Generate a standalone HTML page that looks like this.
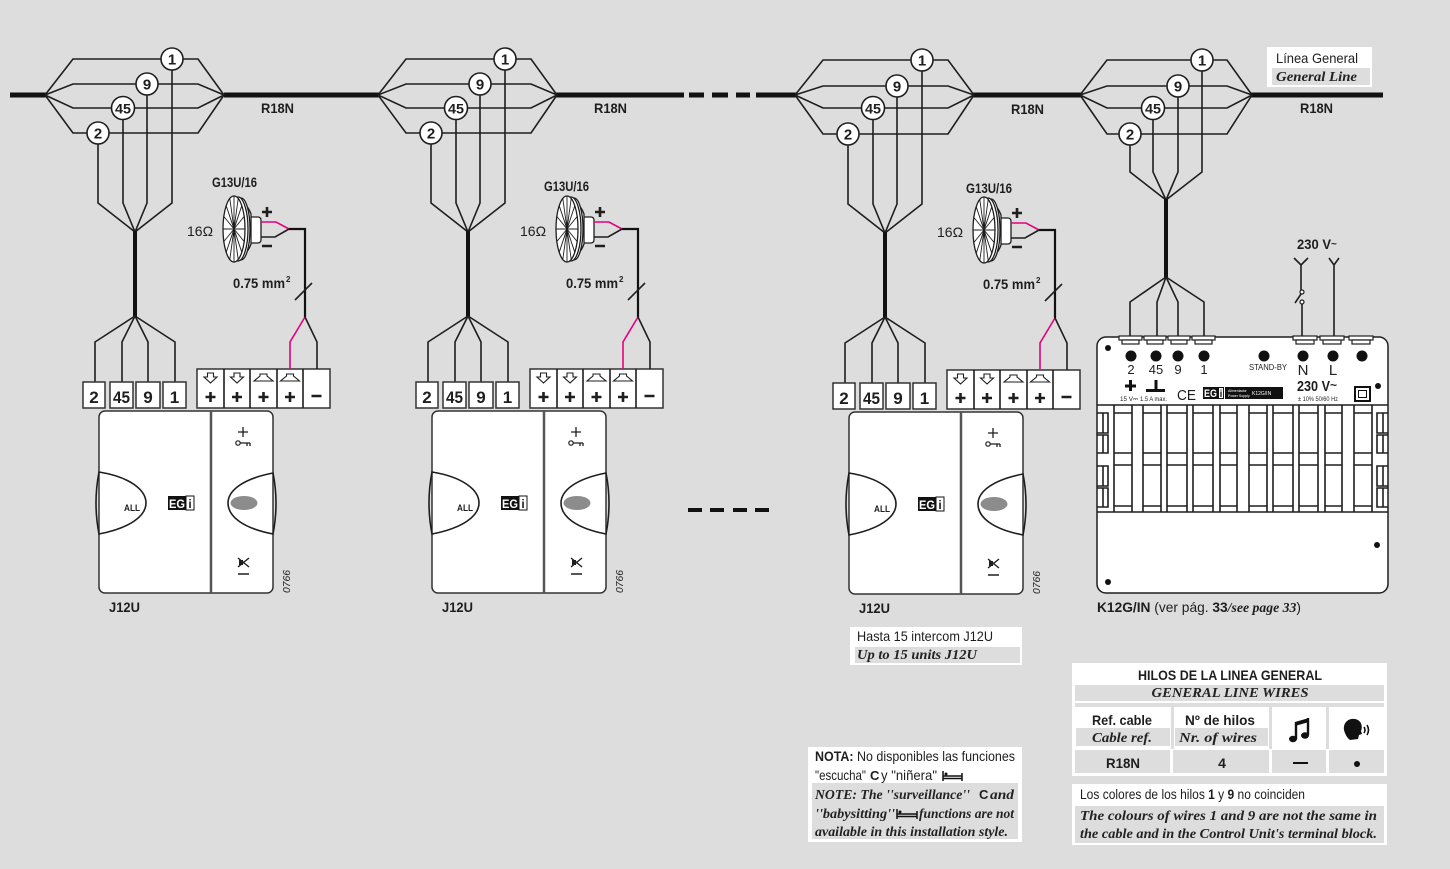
<!DOCTYPE html>
<html><head><meta charset="utf-8">
<style>
html,body{margin:0;padding:0;background:#dddddd;}
svg{display:block;}
.w{fill:none;stroke:#1e1e1e;stroke-width:1.6;stroke-linejoin:miter}
.b{font-family:"Liberation Sans",sans-serif;font-weight:bold;fill:#1e1e1e}
.r{font-family:"Liberation Sans",sans-serif;fill:#1e1e1e}
.s{font-family:"Liberation Serif",serif;font-style:italic;font-weight:bold;fill:#222}
</style></head><body>
<svg width="1450" height="869" viewBox="0 0 1450 869" xmlns="http://www.w3.org/2000/svg">
<rect width="1450" height="869" fill="#dddddd"/>

<!-- main general line -->
<path d="M10,95H46 M224,95H379 M556,95H684 M689,95H704 M712,95H728 M736,95H750 M756,95H796 M973,95H1081 M1251,95H1383" stroke="#111" stroke-width="5" fill="none"/>

<!-- middle dashes -->
<path d="M688,510H702 M710,510H724 M733,510H747 M755,510H769" stroke="#111" stroke-width="4" fill="none"/>

<!-- ============ GROUP 1 ============ -->
<g id="grp1">
<path class="w" d="M45,95 L73,59 H198 L224,95 M45,95 L73,84 H198 L224,95 M45,95 L73,108 H198 L224,95 M45,95 L73,133 H198 L224,95"/>
<path class="w" d="M98,133 V203 L135,232 M123,108 V203 L135,232 M147,84 V203 L135,232 M172,59 V203 L135,232"/>
<g fill="#fff" stroke="#1e1e1e" stroke-width="1.6"><circle cx="172" cy="59" r="11"/><circle cx="147" cy="84" r="11"/><circle cx="123" cy="108" r="11.5"/><circle cx="98" cy="133" r="11"/></g>
<g class="b" font-size="15" text-anchor="middle"><text x="172" y="64.5">1</text><text x="147" y="89.5">9</text><text x="123" y="113.5" font-size="14" textLength="16" lengthAdjust="spacingAndGlyphs">45</text><text x="98" y="138.5">2</text></g>
<text class="b" font-size="14" x="261" y="113" textLength="33" lengthAdjust="spacingAndGlyphs">R18N</text>
<path d="M135,231V317" stroke="#111" stroke-width="4" fill="none"/>
<path class="w" d="M135,316 L95,342 V382 M135,316 L122,342 V382 M135,316 L148,342 V382 M135,316 L175,342 V382"/>
<g fill="#fff" stroke="#333" stroke-width="1.5">
<rect x="83" y="382" width="22" height="26"/><rect x="110" y="382" width="23" height="26"/><rect x="136" y="382" width="24" height="26"/><rect x="163" y="382" width="23" height="26"/>
<rect x="197" y="369" width="133" height="39"/>
</g>
<path class="w" d="M224,369V408 M250,369V408 M277,369V408 M303,369V408"/>
<g class="b" font-size="17" text-anchor="middle"><text x="94" y="403">2</text><text x="121.5" y="403" textLength="17" lengthAdjust="spacingAndGlyphs">45</text><text x="148" y="403">9</text><text x="174.5" y="403">1</text></g>
<g fill="#fff" stroke="#1e1e1e" stroke-width="1.1">
<path d="M207.5,373h6v4h3.5l-6.5,6l-6.5,-6h3.5z"/><path d="M234,373h6v4h3.5l-6.5,6l-6.5,-6h3.5z"/>
<path d="M260,374h7v2l6,5h-19l6,-5z"/><path d="M286.5,374h7v2l6,5h-19l6,-5z"/>
</g>
<path d="M205.5,397h10 M210.5,392v10 M232,397h10 M237,392v10 M258.5,397h10 M263.5,392v10 M285,397h10 M290,392v10 M311.5,396h10" stroke="#1e1e1e" stroke-width="2.6" fill="none"/>
<!-- speaker -->
<text class="r" font-size="14" x="187" y="236">16Ω</text>
<g fill="#fff" stroke="#1e1e1e" stroke-width="1.3">
<rect x="249" y="217" width="12" height="26" rx="3"/>
<path d="M238,198 Q248,205 251,214 V244 Q248,253 238,260 Z"/>
<ellipse cx="241" cy="229" rx="9" ry="31"/>
<ellipse cx="238" cy="229" rx="10" ry="32"/>
<ellipse cx="234" cy="229" rx="11" ry="33"/>
</g>
<path d="M223,229H245 M223.8,216.4L244.2,241.6 M226.2,205.7L241.8,252.3 M229.8,198.5L238.2,259.5 M234,196V262 M238.2,198.5L229.8,259.5 M241.8,205.7L226.2,252.3 M244.2,216.4L223.8,241.6" stroke="#1e1e1e" stroke-width="0.9" fill="none"/>
<path d="M262,212h10 M267,207v10 M262,246h10" stroke="#1e1e1e" stroke-width="2.6" fill="none"/>
<path d="M289,229 H305 V317" stroke="#111" stroke-width="2.2" fill="none"/>
<path class="w" d="M295,300 L312,283"/>
<path d="M261,222 H276 L289,229" stroke="#e6007e" stroke-width="1.6" fill="none"/>
<path class="w" d="M261,237 H275 L289,229"/>
<path d="M305,317 L290,342 V369" stroke="#e6007e" stroke-width="1.6" fill="none"/>
<path class="w" d="M305,317 L317,342 V369"/>
<text class="b" font-size="14" x="233" y="288" textLength="52" lengthAdjust="spacingAndGlyphs">0.75  mm</text>
<text class="b" font-size="8" x="286" y="282">2</text>
<!-- intercom -->
<rect x="99" y="411" width="174" height="182" rx="6" fill="#fff" stroke="#333" stroke-width="1.5"/>
<path d="M211,411V593" stroke="#555" stroke-width="2.5"/>
<path class="w" fill="#fff" d="M99,472 C130,477 146,490 146,503 C146,516 130,528 99,534 Q93,503 99,472 Z"/>
<path class="w" fill="#fff" d="M273,473 C242,479 228,491 228,503 C228,516 242,528 273,534 Q279,503 273,473 Z"/>
<ellipse cx="244" cy="503" rx="13.5" ry="7" fill="#8c8c8c"/>
<text class="b" font-size="9.5" x="124" y="511" textLength="16" lengthAdjust="spacingAndGlyphs">ALL</text>
<rect x="168" y="496" width="18" height="14" fill="#111"/>
<text font-family="Liberation Sans, sans-serif" font-weight="bold" font-size="12" fill="#fff" x="169" y="508" textLength="16" lengthAdjust="spacingAndGlyphs">EG</text>
<rect x="186" y="496" width="8" height="14" fill="#fff" stroke="#111" stroke-width="1"/>
<text class="b" font-size="12" x="190" y="508" text-anchor="middle">i</text>
<path d="M238,432h10 M243,427v10 M240,443h10 M247,443v3 M250,443v3" stroke="#1e1e1e" stroke-width="1.3" fill="none"/>
<circle cx="238" cy="443" r="2.2" fill="none" stroke="#1e1e1e" stroke-width="1.2"/>
<path d="M238,558L249,567 M249,558L238,567 M238,574h11" stroke="#1e1e1e" stroke-width="1.4" fill="none"/>
<rect x="239" y="560" width="4" height="5" fill="#1e1e1e"/>
<text class="r" font-size="10" font-style="italic" transform="translate(290,593) rotate(-90)" textLength="23" lengthAdjust="spacingAndGlyphs">0766</text>
<text class="b" font-size="14" x="109" y="612" textLength="31" lengthAdjust="spacingAndGlyphs">J12U</text>
</g>
<text class="b" font-size="14" x="212" y="187" textLength="45" lengthAdjust="spacingAndGlyphs">G13U/16</text>

<!-- ============ GROUP 2 ============ -->
<g transform="translate(333,0)">
<path class="w" d="M45,95 L73,59 H198 L224,95 M45,95 L73,84 H198 L224,95 M45,95 L73,108 H198 L224,95 M45,95 L73,133 H198 L224,95"/>
<path class="w" d="M98,133 V203 L135,232 M123,108 V203 L135,232 M147,84 V203 L135,232 M172,59 V203 L135,232"/>
<g fill="#fff" stroke="#1e1e1e" stroke-width="1.6"><circle cx="172" cy="59" r="11"/><circle cx="147" cy="84" r="11"/><circle cx="123" cy="108" r="11.5"/><circle cx="98" cy="133" r="11"/></g>
<g class="b" font-size="15" text-anchor="middle"><text x="172" y="64.5">1</text><text x="147" y="89.5">9</text><text x="123" y="113.5" font-size="14" textLength="16" lengthAdjust="spacingAndGlyphs">45</text><text x="98" y="138.5">2</text></g>
<text class="b" font-size="14" x="261" y="113" textLength="33" lengthAdjust="spacingAndGlyphs">R18N</text>
<path d="M135,231V317" stroke="#111" stroke-width="4" fill="none"/>
<path class="w" d="M135,316 L95,342 V382 M135,316 L122,342 V382 M135,316 L148,342 V382 M135,316 L175,342 V382"/>
<g fill="#fff" stroke="#333" stroke-width="1.5">
<rect x="83" y="382" width="22" height="26"/><rect x="110" y="382" width="23" height="26"/><rect x="136" y="382" width="24" height="26"/><rect x="163" y="382" width="23" height="26"/>
<rect x="197" y="369" width="133" height="39"/>
</g>
<path class="w" d="M224,369V408 M250,369V408 M277,369V408 M303,369V408"/>
<g class="b" font-size="17" text-anchor="middle"><text x="94" y="403">2</text><text x="121.5" y="403" textLength="17" lengthAdjust="spacingAndGlyphs">45</text><text x="148" y="403">9</text><text x="174.5" y="403">1</text></g>
<g fill="#fff" stroke="#1e1e1e" stroke-width="1.1">
<path d="M207.5,373h6v4h3.5l-6.5,6l-6.5,-6h3.5z"/><path d="M234,373h6v4h3.5l-6.5,6l-6.5,-6h3.5z"/>
<path d="M260,374h7v2l6,5h-19l6,-5z"/><path d="M286.5,374h7v2l6,5h-19l6,-5z"/>
</g>
<path d="M205.5,397h10 M210.5,392v10 M232,397h10 M237,392v10 M258.5,397h10 M263.5,392v10 M285,397h10 M290,392v10 M311.5,396h10" stroke="#1e1e1e" stroke-width="2.6" fill="none"/>
<text class="r" font-size="14" x="187" y="236">16Ω</text>
<g fill="#fff" stroke="#1e1e1e" stroke-width="1.3">
<rect x="249" y="217" width="12" height="26" rx="3"/>
<path d="M238,198 Q248,205 251,214 V244 Q248,253 238,260 Z"/>
<ellipse cx="241" cy="229" rx="9" ry="31"/>
<ellipse cx="238" cy="229" rx="10" ry="32"/>
<ellipse cx="234" cy="229" rx="11" ry="33"/>
</g>
<path d="M223,229H245 M223.8,216.4L244.2,241.6 M226.2,205.7L241.8,252.3 M229.8,198.5L238.2,259.5 M234,196V262 M238.2,198.5L229.8,259.5 M241.8,205.7L226.2,252.3 M244.2,216.4L223.8,241.6" stroke="#1e1e1e" stroke-width="0.9" fill="none"/>
<path d="M262,212h10 M267,207v10 M262,246h10" stroke="#1e1e1e" stroke-width="2.6" fill="none"/>
<path d="M289,229 H305 V317" stroke="#111" stroke-width="2.2" fill="none"/>
<path class="w" d="M295,300 L312,283"/>
<path d="M261,222 H276 L289,229" stroke="#e6007e" stroke-width="1.6" fill="none"/>
<path class="w" d="M261,237 H275 L289,229"/>
<path d="M305,317 L290,342 V369" stroke="#e6007e" stroke-width="1.6" fill="none"/>
<path class="w" d="M305,317 L317,342 V369"/>
<text class="b" font-size="14" x="233" y="288" textLength="52" lengthAdjust="spacingAndGlyphs">0.75  mm</text>
<text class="b" font-size="8" x="286" y="282">2</text>
<rect x="99" y="411" width="174" height="182" rx="6" fill="#fff" stroke="#333" stroke-width="1.5"/>
<path d="M211,411V593" stroke="#555" stroke-width="2.5"/>
<path class="w" fill="#fff" d="M99,472 C130,477 146,490 146,503 C146,516 130,528 99,534 Q93,503 99,472 Z"/>
<path class="w" fill="#fff" d="M273,473 C242,479 228,491 228,503 C228,516 242,528 273,534 Q279,503 273,473 Z"/>
<ellipse cx="244" cy="503" rx="13.5" ry="7" fill="#8c8c8c"/>
<text class="b" font-size="9.5" x="124" y="511" textLength="16" lengthAdjust="spacingAndGlyphs">ALL</text>
<rect x="168" y="496" width="18" height="14" fill="#111"/>
<text font-family="Liberation Sans, sans-serif" font-weight="bold" font-size="12" fill="#fff" x="169" y="508" textLength="16" lengthAdjust="spacingAndGlyphs">EG</text>
<rect x="186" y="496" width="8" height="14" fill="#fff" stroke="#111" stroke-width="1"/>
<text class="b" font-size="12" x="190" y="508" text-anchor="middle">i</text>
<path d="M238,432h10 M243,427v10 M240,443h10 M247,443v3 M250,443v3" stroke="#1e1e1e" stroke-width="1.3" fill="none"/>
<circle cx="238" cy="443" r="2.2" fill="none" stroke="#1e1e1e" stroke-width="1.2"/>
<path d="M238,558L249,567 M249,558L238,567 M238,574h11" stroke="#1e1e1e" stroke-width="1.4" fill="none"/>
<rect x="239" y="560" width="4" height="5" fill="#1e1e1e"/>
<text class="r" font-size="10" font-style="italic" transform="translate(290,593) rotate(-90)" textLength="23" lengthAdjust="spacingAndGlyphs">0766</text>
<text class="b" font-size="14" x="109" y="612" textLength="31" lengthAdjust="spacingAndGlyphs">J12U</text>
</g>
<text class="b" font-size="14" x="544" y="191" textLength="45" lengthAdjust="spacingAndGlyphs">G13U/16</text>

<!-- ============ GROUP 3 ============ -->
<g transform="translate(750,1)">
<path class="w" d="M45,94 L73,59 H198 L224,94 M45,94 L73,85 H198 L224,94 M45,94 L73,107 H198 L224,94 M45,94 L73,133 H198 L224,94"/>
<path class="w" d="M98,133 V203 L135,232 M123,107 V203 L135,232 M147,85 V203 L135,232 M172,59 V203 L135,232"/>
<g fill="#fff" stroke="#1e1e1e" stroke-width="1.6"><circle cx="172" cy="59" r="11"/><circle cx="147" cy="85" r="11"/><circle cx="123" cy="107" r="11.5"/><circle cx="98" cy="133" r="11"/></g>
<g class="b" font-size="15" text-anchor="middle"><text x="172" y="64.5">1</text><text x="147" y="90.5">9</text><text x="123" y="112.5" font-size="14" textLength="16" lengthAdjust="spacingAndGlyphs">45</text><text x="98" y="138.5">2</text></g>
<text class="b" font-size="14" x="261" y="113" textLength="33" lengthAdjust="spacingAndGlyphs">R18N</text>
<path d="M135,231V317" stroke="#111" stroke-width="4" fill="none"/>
<path class="w" d="M135,316 L95,342 V382 M135,316 L122,342 V382 M135,316 L148,342 V382 M135,316 L175,342 V382"/>
<g fill="#fff" stroke="#333" stroke-width="1.5">
<rect x="83" y="382" width="22" height="26"/><rect x="110" y="382" width="23" height="26"/><rect x="136" y="382" width="24" height="26"/><rect x="163" y="382" width="23" height="26"/>
<rect x="197" y="369" width="133" height="39"/>
</g>
<path class="w" d="M224,369V408 M250,369V408 M277,369V408 M303,369V408"/>
<g class="b" font-size="17" text-anchor="middle"><text x="94" y="403">2</text><text x="121.5" y="403" textLength="17" lengthAdjust="spacingAndGlyphs">45</text><text x="148" y="403">9</text><text x="174.5" y="403">1</text></g>
<g fill="#fff" stroke="#1e1e1e" stroke-width="1.1">
<path d="M207.5,373h6v4h3.5l-6.5,6l-6.5,-6h3.5z"/><path d="M234,373h6v4h3.5l-6.5,6l-6.5,-6h3.5z"/>
<path d="M260,374h7v2l6,5h-19l6,-5z"/><path d="M286.5,374h7v2l6,5h-19l6,-5z"/>
</g>
<path d="M205.5,397h10 M210.5,392v10 M232,397h10 M237,392v10 M258.5,397h10 M263.5,392v10 M285,397h10 M290,392v10 M311.5,396h10" stroke="#1e1e1e" stroke-width="2.6" fill="none"/>
<text class="r" font-size="14" x="187" y="236">16Ω</text>
<g fill="#fff" stroke="#1e1e1e" stroke-width="1.3">
<rect x="249" y="217" width="12" height="26" rx="3"/>
<path d="M238,198 Q248,205 251,214 V244 Q248,253 238,260 Z"/>
<ellipse cx="241" cy="229" rx="9" ry="31"/>
<ellipse cx="238" cy="229" rx="10" ry="32"/>
<ellipse cx="234" cy="229" rx="11" ry="33"/>
</g>
<path d="M223,229H245 M223.8,216.4L244.2,241.6 M226.2,205.7L241.8,252.3 M229.8,198.5L238.2,259.5 M234,196V262 M238.2,198.5L229.8,259.5 M241.8,205.7L226.2,252.3 M244.2,216.4L223.8,241.6" stroke="#1e1e1e" stroke-width="0.9" fill="none"/>
<path d="M262,212h10 M267,207v10 M262,246h10" stroke="#1e1e1e" stroke-width="2.6" fill="none"/>
<path d="M289,229 H305 V317" stroke="#111" stroke-width="2.2" fill="none"/>
<path class="w" d="M295,300 L312,283"/>
<path d="M261,222 H276 L289,229" stroke="#e6007e" stroke-width="1.6" fill="none"/>
<path class="w" d="M261,237 H275 L289,229"/>
<path d="M305,317 L290,342 V369" stroke="#e6007e" stroke-width="1.6" fill="none"/>
<path class="w" d="M305,317 L317,342 V369"/>
<text class="b" font-size="14" x="233" y="288" textLength="52" lengthAdjust="spacingAndGlyphs">0.75  mm</text>
<text class="b" font-size="8" x="286" y="282">2</text>
<rect x="99" y="411" width="174" height="182" rx="6" fill="#fff" stroke="#333" stroke-width="1.5"/>
<path d="M211,411V593" stroke="#555" stroke-width="2.5"/>
<path class="w" fill="#fff" d="M99,472 C130,477 146,490 146,503 C146,516 130,528 99,534 Q93,503 99,472 Z"/>
<path class="w" fill="#fff" d="M273,473 C242,479 228,491 228,503 C228,516 242,528 273,534 Q279,503 273,473 Z"/>
<ellipse cx="244" cy="503" rx="13.5" ry="7" fill="#8c8c8c"/>
<text class="b" font-size="9.5" x="124" y="511" textLength="16" lengthAdjust="spacingAndGlyphs">ALL</text>
<rect x="168" y="496" width="18" height="14" fill="#111"/>
<text font-family="Liberation Sans, sans-serif" font-weight="bold" font-size="12" fill="#fff" x="169" y="508" textLength="16" lengthAdjust="spacingAndGlyphs">EG</text>
<rect x="186" y="496" width="8" height="14" fill="#fff" stroke="#111" stroke-width="1"/>
<text class="b" font-size="12" x="190" y="508" text-anchor="middle">i</text>
<path d="M238,432h10 M243,427v10 M240,443h10 M247,443v3 M250,443v3" stroke="#1e1e1e" stroke-width="1.3" fill="none"/>
<circle cx="238" cy="443" r="2.2" fill="none" stroke="#1e1e1e" stroke-width="1.2"/>
<path d="M238,558L249,567 M249,558L238,567 M238,574h11" stroke="#1e1e1e" stroke-width="1.4" fill="none"/>
<rect x="239" y="560" width="4" height="5" fill="#1e1e1e"/>
<text class="r" font-size="10" font-style="italic" transform="translate(290,593) rotate(-90)" textLength="23" lengthAdjust="spacingAndGlyphs">0766</text>
<text class="b" font-size="14" x="109" y="612" textLength="31" lengthAdjust="spacingAndGlyphs">J12U</text>
</g>
<text class="b" font-size="14" x="966" y="193" textLength="46" lengthAdjust="spacingAndGlyphs">G13U/16</text>

<!-- ============ GROUP 4 (power supply) ============ -->
<path class="w" d="M1080,95 L1107,60 H1227 L1252,95 M1080,95 L1107,86 H1227 L1252,95 M1080,95 L1107,108 H1227 L1252,95 M1080,95 L1107,134 H1227 L1252,95"/>
<path class="w" d="M1130,134 V172 L1166,200 M1153,108 V172 L1166,200 M1178,86 V172 L1166,200 M1202,60 V172 L1166,200"/>
<g fill="#fff" stroke="#1e1e1e" stroke-width="1.6"><circle cx="1202" cy="60" r="11"/><circle cx="1178" cy="86" r="11"/><circle cx="1153" cy="108" r="11.5"/><circle cx="1130" cy="134" r="11"/></g>
<g class="b" font-size="15" text-anchor="middle"><text x="1202" y="65.5">1</text><text x="1178" y="91.5">9</text><text x="1153" y="113.5" font-size="14" textLength="16" lengthAdjust="spacingAndGlyphs">45</text><text x="1130" y="139.5">2</text></g>
<text class="b" font-size="14" x="1300" y="113" textLength="33" lengthAdjust="spacingAndGlyphs">R18N</text>
<path d="M1166,199V278" stroke="#111" stroke-width="4" fill="none"/>
<path class="w" d="M1166,277 L1130,302 V337 M1166,277 L1157,302 V337 M1166,277 L1178,302 V337 M1166,277 L1204,302 V337"/>

<!-- legend -->
<rect x="1267" y="47" width="105" height="40" fill="#fff"/>
<rect x="1272" y="68" width="98" height="17" fill="#dddddd"/>
<text class="r" font-size="14" x="1276" y="63" textLength="82" lengthAdjust="spacingAndGlyphs">Línea  General</text>
<text class="s" font-size="14" x="1276" y="81" textLength="81" lengthAdjust="spacingAndGlyphs">General Line</text>

<!-- 230V mains -->
<text class="b" font-size="14" x="1297" y="249" textLength="34" lengthAdjust="spacingAndGlyphs">230  V</text>
<text class="b" font-size="10" x="1331" y="247">~</text>
<path class="w" d="M1294,258 L1301,265 L1308,258 M1301,265 V291 M1295,303 L1301,294 M1302,304 V337 M1329,258 L1334,265 L1339,258 M1334,265 V337"/>
<circle cx="1302" cy="292" r="2" fill="#fff" stroke="#1e1e1e" stroke-width="1.2"/>
<circle cx="1302" cy="302" r="2" fill="#fff" stroke="#1e1e1e" stroke-width="1.2"/>

<!-- PSU body -->
<rect x="1097" y="337" width="291" height="256" rx="9" fill="#fff" stroke="#1e1e1e" stroke-width="1.5"/>
<g fill="#fff" stroke="#1e1e1e" stroke-width="1.2">
<rect x="1119" y="336" width="23" height="4"/><rect x="1122" y="340" width="17" height="4"/>
<rect x="1144" y="336" width="22" height="4"/><rect x="1147" y="340" width="16" height="4"/>
<rect x="1168" y="336" width="22" height="4"/><rect x="1171" y="340" width="16" height="4"/>
<rect x="1192" y="336" width="23" height="4"/><rect x="1195" y="340" width="17" height="4"/>
<rect x="1293" y="336" width="24" height="4"/><rect x="1296" y="340" width="18" height="4"/>
<rect x="1320" y="336" width="24" height="4"/><rect x="1323" y="340" width="18" height="4"/>
<rect x="1349" y="336" width="24" height="4"/><rect x="1352" y="340" width="18" height="4"/>
</g>
<g fill="#111">
<circle cx="1131" cy="356" r="5.5"/><circle cx="1156" cy="356" r="5.5"/><circle cx="1178" cy="356" r="5.5"/><circle cx="1204" cy="356" r="5.5"/>
<circle cx="1264" cy="356" r="5.5"/><circle cx="1303" cy="356" r="5.5"/><circle cx="1333" cy="356" r="5.5"/><circle cx="1362" cy="356" r="5.5"/>
<circle cx="1108" cy="348" r="3"/><circle cx="1378" cy="386" r="3"/><circle cx="1377" cy="545" r="3"/><circle cx="1108" cy="582" r="3"/>
</g>
<g class="r" font-size="13" text-anchor="middle"><text x="1131" y="374">2</text><text x="1156" y="374">45</text><text x="1178" y="374">9</text><text x="1204" y="374">1</text></g>
<text class="r" font-size="8.5" x="1268" y="370" text-anchor="middle" textLength="38" lengthAdjust="spacingAndGlyphs">STAND-BY</text>
<text class="r" font-size="15" x="1303" y="375" text-anchor="middle">N</text>
<text class="r" font-size="15" x="1333" y="375" text-anchor="middle">L</text>
<path d="M1125,386h11 M1130.5,380v11 M1156,380v10 M1146,390.5h19" stroke="#111" stroke-width="3" fill="none"/>
<text class="r" font-size="6.5" x="1120" y="401" textLength="18" lengthAdjust="spacingAndGlyphs">15 V⎓</text>
<text class="r" font-size="6.5" x="1140" y="401" textLength="27" lengthAdjust="spacingAndGlyphs">1.5 A max.</text>
<text class="r" font-size="15" x="1177" y="400" textLength="19" lengthAdjust="spacingAndGlyphs">CE</text>
<rect x="1203" y="387" width="15" height="12" fill="#111"/>
<text font-family="Liberation Sans, sans-serif" font-weight="bold" font-size="11" fill="#fff" x="1204" y="397" textLength="13" lengthAdjust="spacingAndGlyphs">EG</text>
<rect x="1218.5" y="387.5" width="5" height="11" fill="#fff" stroke="#111" stroke-width="1"/>
<text class="b" font-size="10" x="1221" y="397" text-anchor="middle">i</text>
<rect x="1225" y="387" width="58" height="12" fill="#111"/>
<text font-family="Liberation Sans, sans-serif" font-size="3.5" fill="#fff" x="1228" y="392">Alimentador</text>
<text font-family="Liberation Sans, sans-serif" font-size="3.5" fill="#fff" x="1228" y="397">Power Supply</text>
<text font-family="Liberation Sans, sans-serif" font-size="5" fill="#fff" x="1252" y="395">K12G/IN</text>
<text class="b" font-size="15" x="1297" y="391" textLength="33" lengthAdjust="spacingAndGlyphs">230 V</text>
<text class="b" font-size="12" x="1330" y="389">~</text>
<text class="r" font-size="6" x="1298" y="401" textLength="40" lengthAdjust="spacingAndGlyphs">± 10% 50/60 Hz</text>
<rect x="1355" y="387" width="15" height="14" fill="none" stroke="#111" stroke-width="2"/>
<rect x="1358.5" y="390.5" width="8" height="7" fill="none" stroke="#111" stroke-width="1"/>
<!-- grid -->
<path class="w" stroke-width="1.3" d="M1097,405H1388 M1097,512H1388
M1114,405V512 M1132,405V512 M1143,405V512 M1161,405V512 M1167,405V512 M1187,405V512 M1193,405V512 M1213,405V512 M1220,405V512 M1237,405V512 M1249,405V512 M1267,405V512 M1273,405V512 M1293,405V512 M1299,405V512 M1318,405V512 M1325,405V512 M1342,405V512 M1354,405V512 M1372,405V512
M1114,413H1132 M1114,453H1132 M1114,465H1132 M1114,506H1132
M1143,413H1161 M1143,453H1161 M1143,465H1161 M1143,506H1161
M1167,413H1187 M1167,453H1187 M1167,465H1187 M1167,506H1187
M1193,413H1213 M1193,453H1213 M1193,465H1213 M1193,506H1213
M1220,413H1237 M1220,453H1237 M1220,465H1237 M1220,506H1237
M1249,413H1267 M1249,453H1267 M1249,465H1267 M1249,506H1267
M1273,413H1293 M1273,453H1293 M1273,465H1293 M1273,506H1293
M1299,413H1318 M1299,453H1318 M1299,465H1318 M1299,506H1318
M1325,413H1342 M1325,453H1342 M1325,465H1342 M1325,506H1342
M1354,413H1372 M1354,453H1372 M1354,465H1372 M1354,506H1372
M1097,413H1108V433H1097 M1103,413V433 M1097,435H1108V453H1097 M1103,435V453
M1097,466H1108V486H1097 M1103,466V486 M1097,488H1108V507H1097 M1103,488V507
M1388,413H1377V433H1388 M1383,413V433 M1388,435H1377V453H1388 M1383,435V453
M1388,466H1377V486H1388 M1383,466V486 M1388,488H1377V507H1388 M1383,488V507"/>
<text font-family="Liberation Sans, sans-serif" font-size="14" fill="#1e1e1e" x="1097" y="612" textLength="204" lengthAdjust="spacingAndGlyphs"><tspan font-weight="bold">K12G/IN</tspan> (ver pág. <tspan font-weight="bold">33</tspan><tspan font-family="Liberation Serif, serif" font-style="italic" font-weight="bold">/see page 33</tspan>)</text>

<!-- Hasta box -->
<rect x="850" y="627" width="172" height="38" fill="#fff"/>
<rect x="855" y="647" width="165" height="16" fill="#dddddd"/>
<text class="r" font-size="14" x="857" y="641" textLength="136" lengthAdjust="spacingAndGlyphs">Hasta 15 intercom J12U</text>
<text class="s" font-size="14" x="857" y="659" textLength="120" lengthAdjust="spacingAndGlyphs">Up to 15 units J12U</text>

<!-- NOTA box -->
<rect x="808" y="747" width="214" height="95" fill="#fff"/>
<rect x="812" y="783" width="206" height="56" fill="#dddddd"/>
<text class="r" font-size="14" x="815" y="761" textLength="200" lengthAdjust="spacingAndGlyphs"><tspan font-weight="bold">NOTA:</tspan> No disponibles las funciones</text>
<text class="r" font-size="14" x="815" y="780" textLength="51" lengthAdjust="spacingAndGlyphs">"escucha"</text>
<text class="b" font-size="13" x="870" y="780">C</text>
<text class="r" font-size="14" x="881" y="780" textLength="56" lengthAdjust="spacingAndGlyphs">y "niñera"</text>
<path d="M943,771V781 M943,776H962 M943,778.5H962 M962,773V781" stroke="#111" stroke-width="1.5" fill="none"/>
<circle cx="946" cy="774" r="1.5" fill="#111"/>
<text class="s" font-size="14" x="815" y="799" textLength="155" lengthAdjust="spacingAndGlyphs">NOTE: The ''surveillance''</text>
<text class="b" font-size="13" x="979" y="799">C</text>
<text class="s" font-size="14" x="990" y="799" textLength="24" lengthAdjust="spacingAndGlyphs">and</text>
<text class="s" font-size="14" x="815" y="818" textLength="80" lengthAdjust="spacingAndGlyphs">''babysitting''</text>
<path d="M897,809V819 M897,814H917 M897,816.5H917 M917,811V819" stroke="#111" stroke-width="1.5" fill="none"/>
<circle cx="900" cy="812" r="1.5" fill="#111"/>
<text class="s" font-size="14" x="919" y="818" textLength="95" lengthAdjust="spacingAndGlyphs">functions are not</text>
<text class="s" font-size="14" x="815" y="836" textLength="193" lengthAdjust="spacingAndGlyphs">available in this installation style.</text>

<!-- Table -->
<rect x="1072" y="663" width="315" height="113" fill="#fff"/>
<rect x="1075" y="685" width="309" height="16" fill="#dddddd"/>
<rect x="1075" y="703" width="309" height="4" fill="#dddddd"/>
<rect x="1171" y="707" width="3" height="42" fill="#dddddd"/>
<rect x="1269" y="707" width="3" height="42" fill="#dddddd"/>
<rect x="1326" y="707" width="3" height="42" fill="#dddddd"/>
<rect x="1076" y="728" width="94" height="18" fill="#dddddd"/>
<rect x="1175" y="728" width="93" height="18" fill="#dddddd"/>
<rect x="1075" y="750" width="95" height="23" fill="#dddddd"/>
<rect x="1173" y="750" width="96" height="23" fill="#dddddd"/>
<rect x="1272" y="750" width="54" height="23" fill="#dddddd"/>
<rect x="1329" y="750" width="55" height="23" fill="#dddddd"/>
<text class="b" font-size="14" x="1230" y="680" text-anchor="middle" textLength="184" lengthAdjust="spacingAndGlyphs">HILOS DE LA LINEA GENERAL</text>
<text class="s" font-size="14" x="1230" y="697" text-anchor="middle" textLength="157" lengthAdjust="spacingAndGlyphs">GENERAL LINE WIRES</text>
<text class="b" font-size="14" x="1122" y="725" text-anchor="middle" textLength="60" lengthAdjust="spacingAndGlyphs">Ref.  cable</text>
<text class="s" font-size="14" x="1122" y="742" text-anchor="middle" textLength="60" lengthAdjust="spacingAndGlyphs">Cable ref.</text>
<text class="b" font-size="14" x="1220" y="725" text-anchor="middle" textLength="70" lengthAdjust="spacingAndGlyphs">Nº de hilos</text>
<text class="s" font-size="14" x="1218" y="742" text-anchor="middle" textLength="78" lengthAdjust="spacingAndGlyphs">Nr. of wires</text>
<!-- music note -->
<path d="M1295,722 L1309,718 V722 L1295,726 Z" fill="#111"/>
<path d="M1296,722V739 M1308,718V735" stroke="#111" stroke-width="2.4" fill="none"/>
<ellipse cx="1293" cy="739" rx="4" ry="3.2" fill="#111"/>
<ellipse cx="1305" cy="735.5" rx="4" ry="3.2" fill="#111"/>
<!-- head + sound -->
<path d="M1344,730 C1343,722 1349,718 1355,719 C1361,720 1363,726 1361,731 L1362,734 L1359,735 L1358,739 L1350,740 C1347,738 1345,734 1344,730 Z" fill="#111"/>
<path d="M1364,727 Q1366,730 1364,733 M1367,725 Q1370,730 1367,735" stroke="#111" stroke-width="1.6" fill="none"/>
<text class="b" font-size="14" x="1123" y="768" text-anchor="middle" textLength="34" lengthAdjust="spacingAndGlyphs">R18N</text>
<text class="b" font-size="14" x="1222" y="768" text-anchor="middle">4</text>
<path d="M1293,763H1308" stroke="#111" stroke-width="2" fill="none"/>
<circle cx="1357" cy="764" r="3" fill="#111"/>

<!-- wire colour note -->
<rect x="1072" y="784" width="315" height="61" fill="#fff"/>
<rect x="1075" y="806" width="309" height="37" fill="#dddddd"/>
<text class="r" font-size="14" x="1080" y="799" textLength="225" lengthAdjust="spacingAndGlyphs">Los colores de los hilos <tspan font-weight="bold">1</tspan> y <tspan font-weight="bold">9</tspan> no coinciden</text>
<text class="s" font-size="14" x="1080" y="820" textLength="297" lengthAdjust="spacingAndGlyphs">The colours of wires 1 and  9  are not the same in</text>
<text class="s" font-size="14" x="1080" y="838" textLength="297" lengthAdjust="spacingAndGlyphs">the cable and in the Control Unit's terminal block.</text>
</svg>
</body></html>
